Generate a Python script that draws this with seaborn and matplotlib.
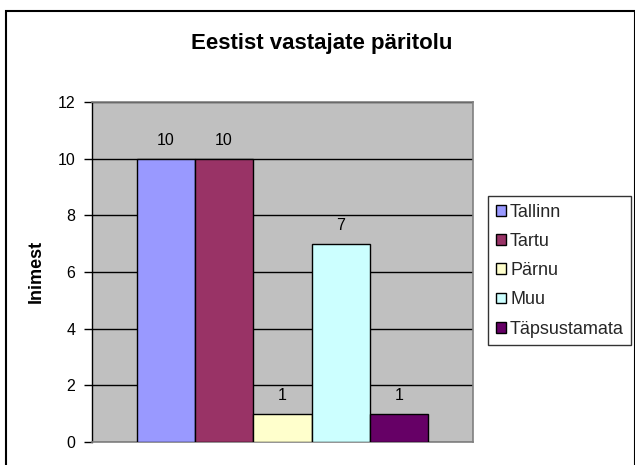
import matplotlib
matplotlib.use("Agg")
import matplotlib.pyplot as plt
import seaborn as sns
import pandas as pd
from matplotlib.patches import Patch, Rectangle

categories = ["Tallinn", "Tartu", "Pärnu", "Muu", "Täpsustamata"]
values = [10, 10, 1, 7, 1]
colors = ["#9999FF", "#993366", "#FFFFCC", "#CCFFFF", "#660066"]
title = "Eestist vastajate päritolu"
ylabel = "Inimest"
yticks = [0, 2, 4, 6, 8, 10, 12]

sns.set_theme(style="white")
plt.rcParams["font.family"] = ["Liberation Sans", "DejaVu Sans"]

W, H = 635, 465
fig = plt.figure(figsize=(W / 100, H / 100), dpi=100)
fig.patch.set_facecolor("white")

# outer chart border
fig.add_artist(Rectangle((6 / W, -0.1), (634.5 - 6) / W, (H - 11) / H + 0.1,
                         transform=fig.transFigure, fill=False,
                         edgecolor="black", linewidth=1.5))

ax = fig.add_axes([92 / W, (H - 442) / H, (473 - 92) / W, (442 - 102) / H])
ax.set_facecolor("#C0C0C0")

df = pd.DataFrame({"grp": [""] * len(categories), "city": categories, "value": values})
sns.barplot(data=df, x="grp", y="value", hue="city", hue_order=categories,
            palette=colors, width=292 / 381, edgecolor="black", linewidth=1,
            ax=ax, legend=False, saturation=1, zorder=3)

for c in ax.containers:
    ax.bar_label(c, padding=8, fontsize=11.5, color="black")

ax.set_xlim(-0.5, 0.5)
ax.set_ylim(0, 12)
ax.set_yticks(yticks)
ax.set_xticks([])
ax.set_xlabel("")
ax.set_ylabel("")
ax.yaxis.grid(True, color="black", linewidth=1)
ax.set_axisbelow(True)
ax.tick_params(axis="y", left=True, length=6, width=1, color="black",
               labelsize=11.5, pad=6, labelcolor="black")
for s in ["top", "right", "bottom"]:
    ax.spines[s].set_color("#808080")
    ax.spines[s].set_linewidth(1.2)
ax.spines["left"].set_color("black")
ax.spines["left"].set_linewidth(1)

fig.text(322 / W, 1 - 43 / H, title, ha="center", va="center",
         fontsize=16, fontweight="bold", color="black")
fig.text(36 / W, 1 - 271 / H, ylabel, ha="center", va="center", rotation=90,
         fontsize=13, fontweight="bold", color="black")

handles = [Patch(facecolor=col, edgecolor="black", linewidth=1) for col in colors]
leg = fig.legend(handles, categories, loc="upper left",
                 bbox_to_anchor=(488 / W, 1 - 196 / H), frameon=True,
                 fontsize=13, handlelength=0.55, handleheight=0.55,
                 handletextpad=0.25, labelspacing=0.68, borderpad=0.42,
                 borderaxespad=0, fancybox=False)
leg.get_frame().set_edgecolor("black")
leg.get_frame().set_linewidth(1)
leg.get_frame().set_boxstyle("square", pad=0)

fig.savefig("out.png", dpi=100)
